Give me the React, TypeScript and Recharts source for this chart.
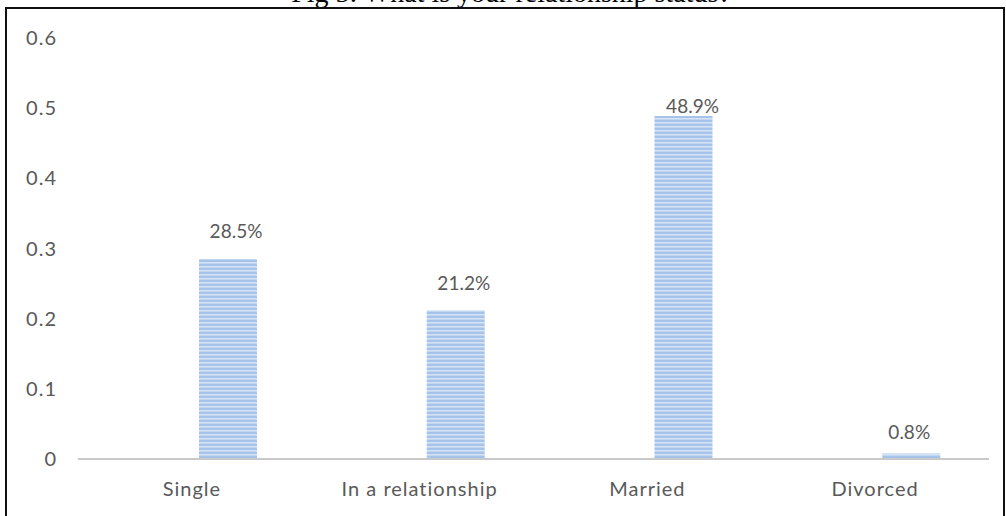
import React from 'react';
import { BarChart, Bar, XAxis, YAxis, LabelList } from 'recharts';

// survey answers, share of respondents
const categories = ['Single', 'In a relationship', 'Married', 'Divorced'];
const shares = [0.285, 0.212, 0.489, 0.008];
// Excel had an empty first series, that's why the bars sit right of the labels
const blank = [0, 0, 0, 0];
const yTicks = [0, 0.1, 0.2, 0.3, 0.4, 0.5, 0.6];

// hand placed labels in the original, nudges from the bar top
const labelDx = [8, 8, 9, -2];
const labelLift = [21, 20, 3, 14];

const FONT = 'Lato, "Open Sans", sans-serif';
const GREY = '#595959';

const chartData = categories.map((name, i) => ({ name, blank: blank[i], share: shares[i] }));

const pct = (v: number) => `${(v * 100).toFixed(1)}%`;

const BarLabel = (props: any) => {
  const { x, y, width, value, index } = props;
  return (
    <text
      x={x + width / 2 + labelDx[index]}
      y={y - labelLift[index]}
      textAnchor="middle"
      fill={GREY}
      fontSize={19}
      fontFamily={FONT}
    >
      {pct(value)}
    </text>
  );
};

const tickStyle = { fill: GREY, fontSize: 20, fontFamily: FONT, letterSpacing: 1 };

const App: React.FC = () => {
  return (
    <div style={{ position: 'absolute', left: 0, top: 0, width: 1006, height: 516, overflow: 'hidden', background: '#fff' }}>
      <svg width={0} height={0} style={{ position: 'absolute' }}>
        <defs>
          <pattern id="hstripes" width={6} height={4} patternUnits="userSpaceOnUse">
            <rect width={6} height={4} fill="#a6c3ea" />
            <rect y={2} width={6} height={1.6} fill="#d4e3f6" />
          </pattern>
        </defs>
      </svg>
      <div
        style={{
          position: 'absolute',
          top: -21,
          left: 0,
          width: 1022,
          textAlign: 'center',
          fontFamily: '"Liberation Serif", "Times New Roman", serif',
          fontSize: 28,
          lineHeight: '28px',
          color: '#000',
          whiteSpace: 'nowrap',
        }}
      >
        Fig 5: What is your relationship status?
      </div>
      <div
        style={{
          position: 'absolute',
          left: 5,
          top: 7,
          width: 996,
          height: 520,
          borderLeft: '2px solid #111',
          borderTop: '2px solid #111',
          borderRight: '2px solid #111',
        }}
      />
      <div style={{ position: 'absolute', left: 0, top: 0 }}>
        <BarChart
          width={1006}
          height={516}
          data={chartData}
          margin={{ top: 38, right: 17, bottom: 27, left: 0 }}
          barSize={58}
          barGap={14}
        >
          <XAxis
            dataKey="name"
            axisLine={{ stroke: '#c9c9c9', strokeWidth: 2 }}
            tickLine={false}
            tickSize={6}
            tickMargin={17}
            height={30}
            tick={tickStyle}
          />
          <YAxis
            domain={[0, 0.6]}
            ticks={yTicks}
            width={78}
            axisLine={false}
            tickLine={false}
            tickSize={6}
            tickMargin={15}
            tick={tickStyle}
            tickFormatter={(v: number) => (v === 0 ? '0' : String(v))}
          />
          <Bar dataKey="blank" fill="none" isAnimationActive={false} />
          <Bar dataKey="share" fill="url(#hstripes)" isAnimationActive={false}>
            <LabelList dataKey="share" content={BarLabel} />
          </Bar>
        </BarChart>
      </div>
    </div>
  );
};

export default App;
